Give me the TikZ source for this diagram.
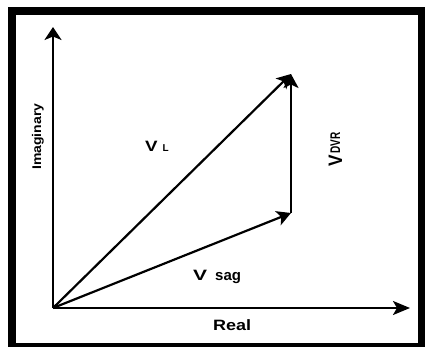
\documentclass[tikz,border=0pt]{standalone}
\usepackage{graphicx}
\usepackage{fontspec}
\setmainfont{Liberation Sans}
\usetikzlibrary{arrows.meta}
\begin{document}
\begin{tikzpicture}[x=1pt,y=-1pt,
  vec/.style={line width=2.2pt,-{Stealth[length=14pt,width=15pt,inset=3.5pt]}},
  xaxis/.style={line width=2.2pt,-{Stealth[length=17pt,width=14pt,inset=4pt]}},
  yaxis/.style={line width=2.2pt,-{Stealth[length=13pt,width=17pt,inset=3.5pt]}},
  lbl/.style={inner sep=0pt,font=\bfseries}]
\useasboundingbox (0,0) rectangle (425,347);
\draw[line width=8pt,line join=miter] (12,11) rectangle (422,347);
\coordinate (O) at (53,308);
\coordinate (X) at (410,308);
\coordinate (Y) at (53,27);
\coordinate (S) at (291,213);
\coordinate (L) at (291,74);
\draw[xaxis] (O) -- (X);
\draw[yaxis] (O) -- (Y);
\draw[vec] (O) -- (L);
\draw[vec] (O) -- (S);
\draw[vec] (S) -- (L);
\node[lbl,anchor=base west,rotate=90] (im) at (41,170)
  {\fontsize{14}{14}\selectfont\scalebox{1}[0.9]{Imaginary}};
\node[lbl,anchor=base west] (re) at (213,330)
  {\fontsize{15}{15}\selectfont\scalebox{1.2}[1]{Real}};
\node[lbl,anchor=base west] (vs) at (193,280)
  {\fontsize{15}{15}\selectfont\scalebox{1.4}[1]{V}\hspace{8pt}sag};
\node[lbl,anchor=base west] (vl) at (145,152)
  {\fontsize{15}{15}\selectfont\scalebox{1.25}[1]{V}\hspace{5pt}{\fontsize{10}{10}\selectfont L}};
\node[lbl,anchor=base west,rotate=90] (vd) at (342,167)
  {\fontsize{15}{15}\selectfont\scalebox{1.15}[1.3]{V}\hspace{2pt}\raisebox{2pt}{\fontsize{10}{10}\selectfont\scalebox{1}[1.4]{DVR}}};
\end{tikzpicture}
\end{document}
